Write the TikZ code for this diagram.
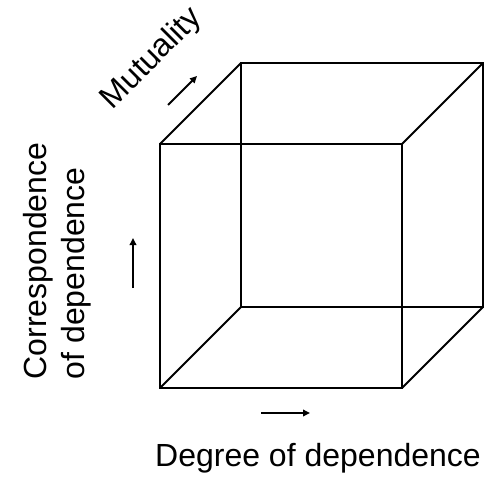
\documentclass[tikz,border=0pt]{standalone}
\usepackage{fontspec}
\setmainfont{Liberation Sans}
\usetikzlibrary{arrows.meta}
\begin{document}
\begin{tikzpicture}[x=1pt,y=-1pt,
  edge/.style={line width=1.8pt, line join=miter},
  axisarrow/.style={line width=2pt, -{Triangle[length=7pt,width=6.5pt]}},
  lbl/.style={font=\fontsize{32}{38.5}\selectfont, inner sep=0pt}]
\useasboundingbox (0,0) rectangle (502,476);
% front face
\coordinate (f1) at (160,144);
\coordinate (f2) at (402,144);
\coordinate (f3) at (402,388);
\coordinate (f4) at (160,388);
% back face
\coordinate (b1) at (241,63);
\coordinate (b2) at (483,63);
\coordinate (b3) at (483,307);
\coordinate (b4) at (241,307);
\draw[edge] (f1) -- (f2) -- (f3) -- (f4) -- cycle;
\draw[edge] (b1) -- (b2) -- (b3) -- (b4) -- cycle;
\draw[edge] (f1) -- (b1);
\draw[edge] (f2) -- (b2);
\draw[edge] (f3) -- (b3);
\draw[edge] (f4) -- (b4);
% axis arrows
\coordinate (ma) at (168,105);
\coordinate (mb) at (197,76);
\draw[axisarrow] (ma) -- (mb);
\coordinate (ha) at (261,413);
\coordinate (hb) at (310,413);
\draw[axisarrow] (ha) -- (hb);
\coordinate (va) at (133,288);
\coordinate (vb) at (133,238);
\draw[axisarrow] (va) -- (vb);
% labels
\node[lbl, anchor=base] (deg) at (318,466) {Degree of dependence};
\node[lbl, rotate=45] (mut) at (152,59) {Mutuality};
\node[lbl, rotate=90, align=left, anchor=center] (corr) at (57,261) {Correspondence\\of dependence};
\end{tikzpicture}
\end{document}
